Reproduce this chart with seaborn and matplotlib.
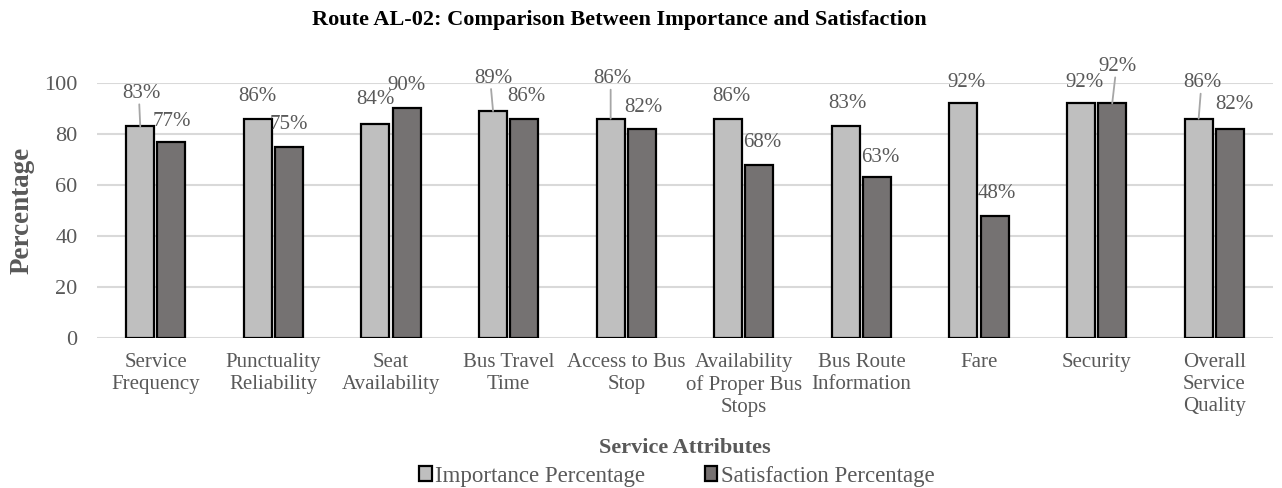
import numpy as np
import pandas as pd
import seaborn as sns
import matplotlib.pyplot as plt
from matplotlib.patches import Patch

# Datos del gráfico
attributes = ["Service\nFrequency", "Punctuality\nReliability", "Seat\nAvailability",
              "Bus Travel\nTime", "Access to Bus\nStop", "Availability\nof Proper Bus\nStops",
              "Bus Route\nInformation", "Fare", "Security", "Overall\nService\nQuality"]
importance = [83, 86, 84, 89, 86, 86, 83, 92, 92, 86]
satisfaction = [77, 75, 90, 86, 82, 68, 63, 48, 92, 82]
series = ["Importance Percentage", "Satisfaction Percentage"]
colors = ["#BFBFBF", "#767171"]

# Desplazamiento de etiquetas (px) y si llevan línea guía
label_offsets = {
    0: [(1, 33), (0, 22), (0, 24), (0, 33), (2, 40), (3, 22), (2, 23), (3, 21), (3, 21), (4, 36)],
    1: [(0, 20), (0, 22), (0, 23), (2, 22), (2, 21), (3, 22), (3, 20), (2, 22), (5, 37), (5, 24)],
}
leaders = {0: [0, 3, 4, 9], 1: [8]}

df = pd.DataFrame({
    "attribute": attributes * 2,
    "value": importance + satisfaction,
    "series": [series[0]] * len(attributes) + [series[1]] * len(attributes),
})

sns.set_style("white")
plt.rcParams['font.family'] = ['Liberation Serif', 'DejaVu Serif']
text_gray = "#595959"

fig = plt.figure(figsize=(12.82, 4.88), dpi=100)
ax = fig.add_axes([0.0757, 0.307, 0.9173, 0.523])

sns.barplot(data=df, x="attribute", y="value", hue="series", hue_order=series,
            palette=colors, width=0.53, gap=0.1, edgecolor="black", linewidth=1.6,
            ax=ax, legend=False, zorder=3)

ax.set_ylim(0, 100)
ax.set_xlim(-0.5, len(attributes) - 0.5)
ax.set_yticks(np.arange(0, 101, 20))
ax.yaxis.grid(True, color="#D9D9D9", linewidth=1.5, zorder=0)
ax.set_axisbelow(True)
for s in ax.spines.values():
    s.set_visible(False)
ax.tick_params(axis="both", length=0, labelcolor=text_gray)
ax.tick_params(axis="x", pad=11, labelsize=15)
ax.tick_params(axis="y", pad=14, labelsize=16)
ax.set_ylabel("Percentage", fontsize=19.5, fontweight="bold", color=text_gray, labelpad=7)
ax.set_xlabel("Service Attributes", fontsize=16, fontweight="bold", color=text_gray, labelpad=15)
fig.text(0.483, 0.958, "Route AL-02: Comparison Between Importance and Satisfaction",
         ha="center", va="center", fontsize=16, fontweight="bold", color="black")

# Etiquetas de datos
for k, cont in enumerate(ax.containers):
    for i, bar in enumerate(cont):
        xc = bar.get_x() + bar.get_width() / 2
        h = bar.get_height()
        dx, dy = label_offsets[k][i]
        ax.annotate(f"{h:.0f}%", xy=(xc, h), xytext=(dx, dy), textcoords="offset pixels",
                    ha="center", va="center", fontsize=15, color=text_gray,
                    annotation_clip=False, zorder=5)
        if i in leaders[k]:
            ax.annotate("", xy=(xc, h), xytext=(dx - 2, dy - 11), textcoords="offset pixels",
                        arrowprops=dict(arrowstyle="-", color="#A6A6A6", lw=1.3,
                                        shrinkA=0, shrinkB=0),
                        annotation_clip=False, zorder=4)

handles = [Patch(facecolor=c, edgecolor="black", linewidth=1.6) for c in colors]
leg = fig.legend(handles, series, loc="center", bbox_to_anchor=(0.528, 0.024), ncol=2,
                 frameon=False, fontsize=16.5, handlelength=0.55, handleheight=0.6,
                 handletextpad=0.15, columnspacing=2.6)
for t in leg.get_texts():
    t.set_color(text_gray)

fig.savefig("out.png", dpi=100)
